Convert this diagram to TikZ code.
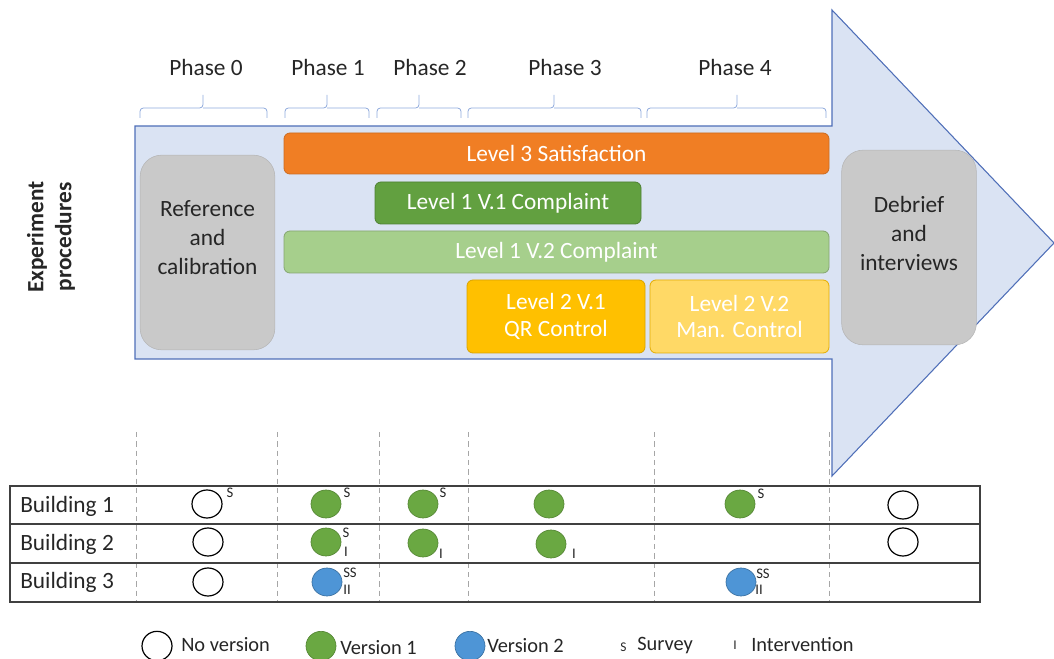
\documentclass[tikz,border=0pt]{standalone}
\usepackage{fontspec}
\setmainfont{Carlito}
\usetikzlibrary{shapes.geometric}
\definecolor{arrowfill}{HTML}{DAE3F3}
\definecolor{arrowline}{HTML}{4F6FB8}
\definecolor{bracecol}{HTML}{8FAADC}
\definecolor{orangebar}{HTML}{F07E24}
\definecolor{dgreenbar}{HTML}{62A040}
\definecolor{lgreenbar}{HTML}{A6CF8C}
\definecolor{amberbar}{HTML}{FFC000}
\definecolor{ylwbar}{HTML}{FFD966}
\definecolor{graybox}{HTML}{C9C9C9}
\definecolor{txt}{HTML}{262626}
\definecolor{vgreen}{HTML}{6AA842}
\definecolor{vblue}{HTML}{4E95D6}
\definecolor{dashcol}{HTML}{A6A6A6}
\definecolor{tabline}{HTML}{404040}
\begin{document}
\begin{tikzpicture}[x=0.75pt,y=-0.75pt,
  every node/.style={text=txt},
  big/.style={font=\fontsize{17.5}{21}\selectfont},
  leg/.style={font=\fontsize{15.3}{18}\selectfont, anchor=west, inner sep=0pt},
  bar/.style={rounded corners=4.5pt, line width=0.6pt, text=white, font=\fontsize{17.5}{20}\selectfont, align=center, inner sep=0pt},
  gbox/.style={rounded corners=16pt, fill=graybox, draw=graybox!90!black, line width=0.4pt, inner sep=0pt, minimum width=101pt, minimum height=146pt},
  bracepath/.style={draw=bracecol, line width=0.6pt, rounded corners=2.5pt},
  circ/.style={ellipse, inner sep=0pt, minimum width=22.5pt, minimum height=21pt},
  vempty/.style={circ, draw=black, line width=0.9pt, fill=white},
  vone/.style={circ, draw=vgreen!80!black, line width=0.5pt, fill=vgreen},
  vtwo/.style={circ, draw=vblue!75!black, line width=0.5pt, fill=vblue},
  sup/.style={font=\fontsize{11}{11}\selectfont, inner sep=0pt},
  gridline/.style={draw=dashcol, line width=0.7pt, dash pattern=on 4pt off 3pt},
  rowline/.style={draw=tabline, line width=1.1pt}
]
\useasboundingbox (0,0) rectangle (1054,659);

% big arrow
\path[fill=arrowfill, draw=arrowline, line width=0.8pt]
  (135,126) -- (832,126) -- (832,10) -- (1054,243) -- (832,476) -- (832,359) -- (135,359) -- cycle;

% phase labels
\node[big] (p0) at (206,67) {Phase 0};
\node[big] (p1) at (328,67) {Phase 1};
\node[big] (p2) at (430,67) {Phase 2};
\node[big] (p3) at (565,67) {Phase 3};
\node[big] (p4) at (735,67) {Phase 4};

% braces
\foreach \a/\m/\b in {140/203/267, 285/327/369, 377/419/461, 468/554/641, 647/737/826}{
  \draw[bracepath] (\a,118) |- (\m,108) -- (\m,95);
  \draw[bracepath] (\m,108) -| (\b,118);
}

% bars
\node[bar, fill=orangebar, draw=orangebar!85!black, minimum width=408.75pt, minimum height=30.75pt] (l3) at (556.5,153.5) {Level 3 Satisfaction};
\node[bar, fill=dgreenbar, draw=dgreenbar!80!black, minimum width=199.5pt, minimum height=31.5pt] (l1a) at (508,203) {Level 1 V.1 Complaint};
\node[bar, fill=lgreenbar, draw=lgreenbar!80!black, minimum width=408.75pt, minimum height=31.5pt] (l1b) at (556.5,252) {Level 1 V.2 Complaint};
\node[bar, fill=amberbar, draw=amberbar!85!black, minimum width=133.5pt, minimum height=54.75pt] (l2a) at (556,316.5) {Level 2 V.1\\QR Control};
\node[bar, fill=ylwbar, draw=amberbar!90!black, minimum width=134.25pt, minimum height=54.75pt] (l2b) at (739.5,316.5) {Level 2 V.2\\Man. Control};

% gray boxes
\node[gbox] (ref) at (207.5,252.5) {};
\node[align=center, font=\fontsize{17.5}{21.75}\selectfont] (reft) at (207.5,238) {Reference\\and\\calibration};
\node[gbox] (deb) at (909,247.5) {};
\node[align=center, font=\fontsize{17.5}{21.75}\selectfont] (debt) at (909,233) {Debrief\\and\\interviews};

% side label
\node[rotate=90, align=center, font=\bfseries\fontsize{17.5}{21}\selectfont] (exp) at (51,237) {Experiment\\procedures};

% dashed grid lines
\foreach \x in {136,277,379,468,654,829}{
  \draw[gridline] (\x,432) -- (\x,601);
}

% table
\draw[rowline] (10,486) rectangle (980,602);
\draw[rowline] (10,524) -- (980,524);
\draw[rowline] (10,563) -- (980,563);

\node[big, anchor=west, inner sep=0pt] (b1) at (20,506) {Building 1};
\node[big, anchor=west, inner sep=0pt] (b2) at (20,544) {Building 2};
\node[big, anchor=west, inner sep=0pt] (b3) at (20,582) {Building 3};

% building 1
\node[vempty] (c11) at (207,504) {};
\node[sup] (s11) at (230,493) {S};
\node[vone] (c12) at (326,504) {};
\node[sup] (s12) at (347,493) {S};
\node[vone] (c13) at (423,504) {};
\node[sup] (s13) at (443,493) {S};
\node[vone] (c14) at (549,504) {};
\node[vone] (c15) at (740,504) {};
\node[sup] (s15) at (761,494) {S};
\node[vempty] (c16) at (903,505) {};

% building 2
\node[vempty] (c21) at (208,542) {};
\node[vone] (c22) at (326,542) {};
\node[sup] (s22) at (346,533) {S};
\node[sup] (i22) at (346,552) {I};
\node[vone] (c23) at (423,543) {};
\node[sup] (i23) at (441,554) {I};
\node[vone] (c24) at (551,544) {};
\node[sup] (i24) at (574,554) {I};
\node[vempty] (c26) at (903,542) {};

% building 3
\node[vempty] (c31) at (208,582) {};
\node[vtwo] (c32) at (327,582) {};
\node[sup] (s32) at (350,573) {SS};
\node[sup] (i32) at (347,590) {II};
\node[vtwo] (c35) at (741,582) {};
\node[sup] (s35) at (763,574) {SS};
\node[sup] (i35) at (759,590) {II};

% legend
\node[vempty, minimum width=22.5pt, minimum height=22pt] (lg0) at (157,646) {};
\node[leg] (lt0) at (181,645) {No version};
\node[vone, minimum width=22.5pt, minimum height=22pt] (lg1) at (321,646) {};
\node[leg] (lt1) at (340,648) {Version 1};
\node[vtwo, minimum width=22.5pt, minimum height=22pt] (lg2) at (470,646) {};
\node[leg] (lt2) at (487,646) {Version 2};
\node[leg, font=\fontsize{10}{10}\selectfont] (lgs) at (620,647) {S};
\node[leg] (lts) at (637,646) {Survey};
\node[leg, font=\fontsize{10}{10}\selectfont] (lgi) at (733,645) {I};
\node[leg] (lti) at (751,645) {Intervention};
\end{tikzpicture}
\end{document}
